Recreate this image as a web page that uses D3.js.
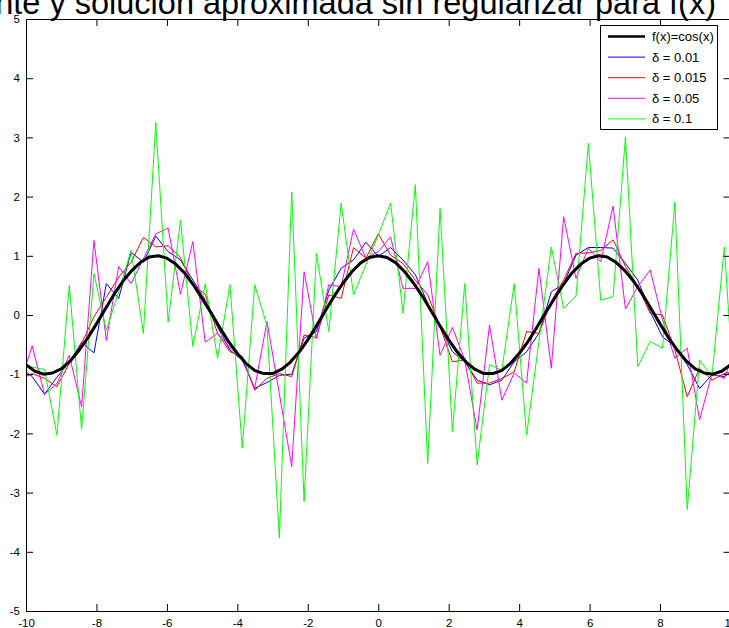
<!DOCTYPE html>
<html>
<head>
<meta charset="utf-8">
<script src="https://cdn.jsdelivr.net/npm/d3@7"></script>
<style>
    body { margin: 0; background: white; }
    svg { display: block; }
</style>
</head>
<body>
<div id="output"></div>
<script>
// exact curve f(x)=cos(x), read on a 0.25 grid from -10 to 10
const exactX = d3.range(81).map(i => -10 + i * 0.25);
const exactY = [-0.84, -0.95, -1.00, -0.98, -0.91, -0.78, -0.60, -0.39, -0.15, 0.10,
    0.35, 0.57, 0.75, 0.89, 0.98, 1.00, 0.96, 0.86, 0.71, 0.51,
    0.28, 0.04, -0.21, -0.45, -0.65, -0.82, -0.94, -0.99, -0.99, -0.92,
    -0.80, -0.63, -0.42, -0.18, 0.07, 0.32, 0.54, 0.73, 0.88, 0.97,
    1.00,
    0.97, 0.88, 0.73, 0.54, 0.32, 0.07, -0.18, -0.42, -0.63, -0.80,
    -0.92, -0.99, -0.99, -0.94, -0.82, -0.65, -0.45, -0.21, 0.04, 0.28,
    0.51, 0.71, 0.86, 0.96, 1.00, 0.98, 0.89, 0.75, 0.57, 0.35,
    0.10, -0.15, -0.39, -0.60, -0.78, -0.91, -0.98, -1.00, -0.95, -0.84];

// approximate solutions sit on the midpoints of a 58 point grid (first/last fall just outside the axes)
const noisyX = d3.range(59).map(k => -10 + (k - 0.5) * 20 / 57);

const delta001 = [-0.88, -1.04, -1.34, -1.05, -0.80, -0.46, -0.64, 0.53, 0.28, 1.06,
    0.89, 1.33, 1.07, 0.93, 0.59, 0.25, -0.20, -0.59, -0.76, -1.24,
    -1.14, -1.02, -1.00, -0.39, -0.28, 0.42, 0.79, 0.93, 1.23, 0.99,
    1.14, 0.93, 0.68, 0.20, -0.20, -0.62, -0.79, -1.10, -1.18, -1.10,
    -0.79, -0.62, -0.31, 0.39, 0.53, 1.01, 1.14, 1.14, 1.13, 0.87,
    0.59, 0.06, -0.37, -0.53, -0.84, -1.24, -1.01, -1.04, -0.90];

const delta0015 = [-1.09, -0.99, -1.07, -1.21, -0.82, -0.48, -0.03, 0.30, 0.64, 0.89,
    1.31, 1.15, 1.17, 0.97, 0.51, 0.35, -0.31, -0.62, -0.70, -1.27,
    -1.07, -0.99, -1.04, -0.34, -0.38, 0.34, 0.28, 1.14, 0.96, 1.37,
    1.01, 0.87, 0.59, 0.34, -0.20, -0.79, -0.76, -1.15, -1.15, -1.07,
    -0.96, -0.28, -0.31, 0.23, 0.59, 1.04, 1.05, 1.09, 1.27, 0.82,
    0.48, 0.03, 0.00, -0.59, -1.38, -0.90, -1.10, -0.99, -0.95];

const delta005 = [-1.18, -0.52, -1.34, -1.16, -0.68, -1.55, 1.26, -0.43, 0.82, 0.53,
    0.95, 1.37, 1.47, 0.35, 1.24, -0.46, -0.31, -0.55, -0.73, -1.24,
    -0.11, -1.33, -2.56, 0.73, -0.40, 0.51, 0.48, 1.45, 0.96, 1.07,
    1.32, 0.45, 0.45, 0.90, -0.68, -0.21, -0.76, -1.94, -0.17, -1.44,
    -0.98, -1.15, 0.79, -0.90, 1.66, 0.62, 1.13, 0.90, 1.84, 0.10,
    0.48, 0.76, -0.08, -0.73, -0.56, -1.77, -0.99, -1.07, -0.50];

const delta01 = [-0.82, -0.88, -0.92, -2.03, 0.50, -1.93, 0.70, -0.26, 0.39, 1.09,
    -0.31, 3.25, -0.12, 1.60, -0.53, 0.53, -0.73, 0.51, -2.25, 0.51,
    -0.18, -3.77, 2.08, -3.15, 1.04, -0.28, 1.89, 0.34, 0.85, 1.35,
    1.89, 0.03, 2.20, -2.51, 1.80, -1.97, 0.53, -2.53, -0.84, -0.93,
    0.53, -2.03, -0.45, 1.15, 0.11, 0.32, 2.90, 0.25, 0.31, 3.01,
    -0.87, -0.45, -0.56, 1.91, -3.29, -0.76, -1.04, 1.15, -2.00];

const seriesNames = ["f(x)=cos(x)", "δ = 0.01", "δ = 0.015", "δ = 0.05", "δ = 0.1"];
const seriesColors = ["#000000", "#0000ff", "#ff0000", "#ff00ff", "#00ff00"];
const xTicks = [-10, -8, -6, -4, -2, 0, 2, 4, 6, 8, 10];
const yTicks = [-5, -4, -3, -2, -1, 0, 1, 2, 3, 4, 5];
const titleText = "nte y solución aproximada sin regularizar para f(x)";

function draw() {
    const w = 729;
    const h = 628;
    const left = 26, right = 730.5, top = 19, bottom = 611;
    const font = "'Liberation Sans', Arial, Helvetica, sans-serif";

    const svg = d3.select("#output").append("svg").attr("width", w).attr("height", h);
    svg.append("rect").attr("width", w).attr("height", h).style("fill", "white");

    const x = d3.scaleLinear().domain([-10, 10]).range([left, right]);
    const y = d3.scaleLinear().domain([-5, 5]).range([bottom, top]);

    svg.append("clipPath").attr("id", "plotclip")
        .append("rect")
        .attr("x", left).attr("y", top)
        .attr("width", right - left).attr("height", bottom - top);

    const plot = svg.append("g").attr("clip-path", "url(#plotclip)");
    const line = d3.line().x(d => x(d[0])).y(d => y(d[1]));

    const noisy = [delta001, delta0015, delta005, delta01];
    noisy.forEach((vals, i) => {
        plot.append("path")
            .datum(noisyX.map((xv, k) => [xv, vals[k]]))
            .attr("d", line)
            .style("fill", "none")
            .style("stroke", seriesColors[i + 1])
            .style("stroke-width", 1);
    });

    plot.append("path")
        .datum(exactX.map((xv, k) => [xv, exactY[k]]))
        .attr("d", line)
        .style("fill", "none")
        .style("stroke", seriesColors[0])
        .style("stroke-width", 3)
        .style("stroke-linejoin", "round");

    // axes box with inward ticks on all sides
    const tick = 7;
    const gx = svg.append("g").attr("transform", `translate(0,${bottom})`)
        .call(d3.axisBottom(x).tickValues(xTicks).tickFormat(d3.format("d"))
            .tickSizeInner(-tick).tickSizeOuter(0).tickPadding(8));
    svg.append("g").attr("transform", `translate(0,${top})`)
        .call(d3.axisTop(x).tickValues(xTicks).tickFormat("")
            .tickSizeInner(-tick).tickSizeOuter(0));
    const gy = svg.append("g").attr("transform", `translate(${left},0)`)
        .call(d3.axisLeft(y).tickValues(yTicks).tickFormat(d3.format("d"))
            .tickSizeInner(-tick).tickSizeOuter(0).tickPadding(6));
    svg.append("g").attr("transform", `translate(${right},0)`)
        .call(d3.axisRight(y).tickValues(yTicks).tickFormat("")
            .tickSizeInner(-tick).tickSizeOuter(0));

    svg.selectAll(".domain, .tick line").style("stroke", "black").style("stroke-width", 1);
    [gx, gy].forEach(g => g.selectAll("text")
        .style("font-family", font)
        .style("font-size", "11.5px")
        .style("fill", "black")
        .text(d => String(d).replace("−", "-")));

    // title, cropped at the top and left like the reference
    svg.append("text")
        .attr("x", 716)
        .attr("y", 14)
        .style("font-family", font)
        .style("font-size", "32.5px")
        .style("text-anchor", "end")
        .style("fill", "black")
        .text(titleText);

    // legend
    const lg = svg.append("g");
    lg.append("rect")
        .attr("x", 600.5).attr("y", 25.5)
        .attr("width", 117).attr("height", 104)
        .style("fill", "white")
        .style("stroke", "black")
        .style("stroke-width", 1);
    seriesNames.forEach((name, i) => {
        const ly = 36.5 + i * 20.6;
        lg.append("line")
            .attr("x1", 608).attr("x2", 645)
            .attr("y1", ly).attr("y2", ly)
            .style("stroke", seriesColors[i])
            .style("stroke-width", i === 0 ? 2.5 : 1);
        lg.append("text")
            .attr("x", 652)
            .attr("y", ly)
            .attr("dy", "0.35em")
            .style("font-family", font)
            .style("font-size", "13px")
            .style("fill", "black")
            .text(name);
    });
}

draw();
</script>
</body>
</html>
